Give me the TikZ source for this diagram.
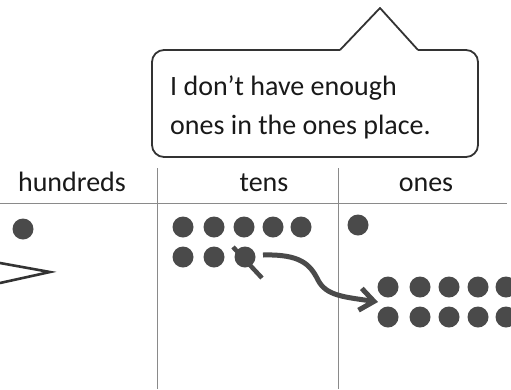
\documentclass[tikz,border=0pt]{standalone}
\usepackage{fontspec}
\setmainfont{Carlito}
\usetikzlibrary{arrows.meta}
\definecolor{dotc}{HTML}{4A4A4A}
\definecolor{rulec}{HTML}{8A8A8A}
\begin{document}
\begin{tikzpicture}[x=1pt,y=-1pt,
  dotnode/.style={circle,fill=dotc,inner sep=0pt,minimum size=21pt},
  rulegrid/.style={draw=rulec,line width=0.9pt},
  lbl/.style={inner sep=0pt,font=\fontsize{28}{39}\selectfont,text=black!90},
  ink/.style={draw=black!80,line width=1.8pt,line join=round}]
\useasboundingbox (0,0) rectangle (511,389);
% grid
\coordinate (hl) at (0,203);
\coordinate (hr) at (507,203);
\coordinate (v1t) at (157,168);
\coordinate (v1b) at (157,389);
\coordinate (v2t) at (338,168);
\coordinate (v2b) at (338,389);
\draw[rulegrid] (hl) -- (hr);
\draw[rulegrid] (v1t) -- (v1b);
\draw[rulegrid] (v2t) -- (v2b);
% headers
\node[lbl,anchor=base] (hh) at (72,191) {hundreds};
\node[lbl,anchor=base] (ht) at (264,191) {tens};
\node[lbl,anchor=base] (ho) at (426,191) {ones};
% callout
\draw[ink,rounded corners=12pt] (340,50) -- (152,50) -- (152,157) -- (478,157) -- (478,50) -- (418,50);
\draw[ink] (340,50) -- (380,8) -- (418,50);
\node[lbl,anchor=base west] (c1) at (170,95) {I don’t have enough};
\node[lbl,anchor=base west] (c2) at (170,134) {ones in the ones place.};
% hundreds
\node[dotnode] (h1) at (23,229) {};
\coordinate (la) at (0,263);
\coordinate (lt) at (50,272);
\coordinate (lb) at (0,283);
\draw[draw=black!80,line width=2.6pt,line join=miter] (la) -- (lt) -- (lb);
% tens
\foreach \x [count=\i] in {183,214,244,273,301}{
  \node[dotnode] (ta\i) at (\x,227) {};
}
\foreach \x [count=\i] in {183,214,245}{
  \node[dotnode] (tb\i) at (\x,257) {};
}
\coordinate (s1) at (233,247);
\coordinate (s2) at (262,278);
\draw[dotc,line width=4.5pt] (s1) -- (s2);
% ones
\node[dotnode] (o0) at (358,225) {};
\foreach \x [count=\i] in {388,420,449,478,506}{
  \node[dotnode] (oa\i) at (\x,287) {};
  \node[dotnode] (ob\i) at (\x,317) {};
}
% arrow
\coordinate (as) at (263,255);
\coordinate (ae) at (378,302);
\draw[dotc,line width=5pt,-{Straight Barb[length=14pt,width=22pt,line width=5pt]}]
  (as) .. controls (300,254) and (310,264) .. (318,280)
  .. controls (326,296) and (345,297) .. (ae);
\end{tikzpicture}
\end{document}
